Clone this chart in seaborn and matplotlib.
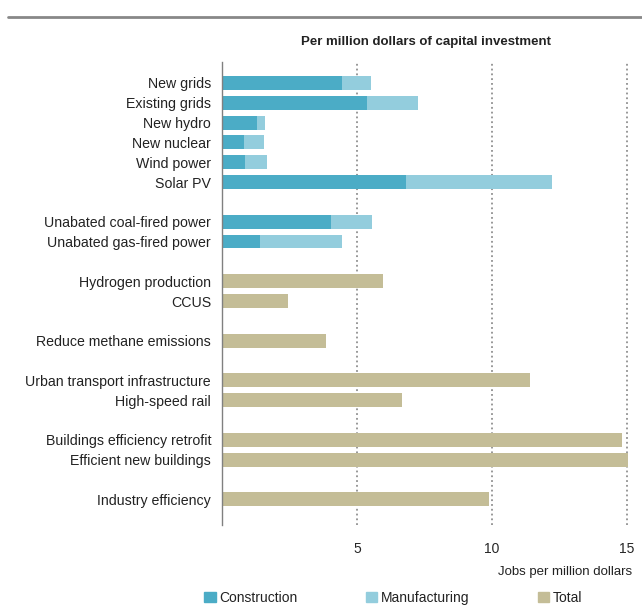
import numpy as np
import pandas as pd
import matplotlib
matplotlib.use('Agg')
import matplotlib.pyplot as plt
from matplotlib.lines import Line2D
from matplotlib.patches import Patch
import seaborn as sns

# dados (empregos por milhao de dolares)
power_labels = ['New grids', 'Existing grids', 'New hydro', 'New nuclear', 'Wind power', 'Solar PV',
                'Unabated coal-fired power', 'Unabated gas-fired power']
construction = [4.45, 5.35, 1.3, 0.8, 0.85, 6.8, 4.05, 1.4]
manufacturing = [1.05, 1.9, 0.28, 0.74, 0.8, 5.42, 1.5, 3.05]

other_labels = ['Hydrogen production', 'CCUS', 'Reduce methane emissions',
                'Urban transport infrastructure', 'High-speed rail',
                'Buildings efficiency retrofit', 'Efficient new buildings', 'Industry efficiency']
total_jobs = [5.95, 2.45, 3.85, 11.4, 6.65, 14.8, 15.05, 9.9]

# ordem com linhas vazias entre grupos
order = ['New grids', 'Existing grids', 'New hydro', 'New nuclear', 'Wind power', 'Solar PV', ' ',
         'Unabated coal-fired power', 'Unabated gas-fired power', '  ',
         'Hydrogen production', 'CCUS', '   ', 'Reduce methane emissions', '    ',
         'Urban transport infrastructure', 'High-speed rail', '     ',
         'Buildings efficiency retrofit', 'Efficient new buildings', '      ',
         'Industry efficiency']

c_con = '#4BACC6'
c_man = '#93CDDD'
c_tot = '#C4BD97'

sns.set_style('white')
plt.rcParams['font.family'] = ['Liberation Sans', 'DejaVu Sans']

df_power = pd.DataFrame({'tech': power_labels, 'con': construction, 'man': manufacturing})
df_power['sum'] = df_power['con'] + df_power['man']
df_other = pd.DataFrame({'tech': other_labels, 'total': total_jobs})

fig = plt.figure(figsize=(6.42, 6.07), dpi=100)
ax = fig.add_axes([0.346, 0.135, 0.635, 0.763])

kw = dict(y='tech', order=order, width=0.7, saturation=1, ax=ax, errorbar=None, linewidth=0)
_ = sns.barplot(data=df_power, x='sum', color=c_man, **kw)
_ = sns.barplot(data=df_power, x='con', color=c_con, **kw)
_ = sns.barplot(data=df_other, x='total', color=c_tot, **kw)

ax.set_xlim(0, 15.1)
ax.set_ylim(22.3, -1.06)
ax.set_xticks([5, 10, 15])
ax.set_xticklabels(['5', '10', '15'], fontsize=10)
ax.tick_params(axis='x', length=0, pad=12)
ax.tick_params(axis='y', length=0, pad=8, labelsize=10.2)
for lab in ax.get_yticklabels():
    lab.set_color('#222222')
ax.set_xlabel('')
ax.set_ylabel('')
for x in [5, 10, 15]:
    ax.axvline(x, color='#909090', linestyle=':', linewidth=1.3, zorder=0)
for s in ['top', 'right', 'bottom']:
    ax.spines[s].set_visible(False)
ax.spines['left'].set_color('#808080')
ax.spines['left'].set_linewidth(1)

ax.set_title('Per million dollars of capital investment', fontsize=9.5, fontweight='bold', pad=12,
             color='#222222')
fig.text(0.984, 0.057, 'Jobs per million dollars', ha='right', va='center', fontsize=9.5,
         color='#222222')

# linha no topo
fig.add_artist(Line2D([0.012, 1.0], [0.972, 0.972], color='#888888', linewidth=2))

handles = [Patch(color=c_con), Patch(color=c_man), Patch(color=c_tot)]
fig.legend(handles, ['Construction', 'Manufacturing', 'Total'], loc='center',
           bbox_to_anchor=(0.613, 0.015), ncol=3, frameon=False, fontsize=10,
           handlelength=0.8, handleheight=0.8, handletextpad=0.3, columnspacing=4.9,
           labelcolor='#222222')

plt.savefig('out.png', dpi=100)
